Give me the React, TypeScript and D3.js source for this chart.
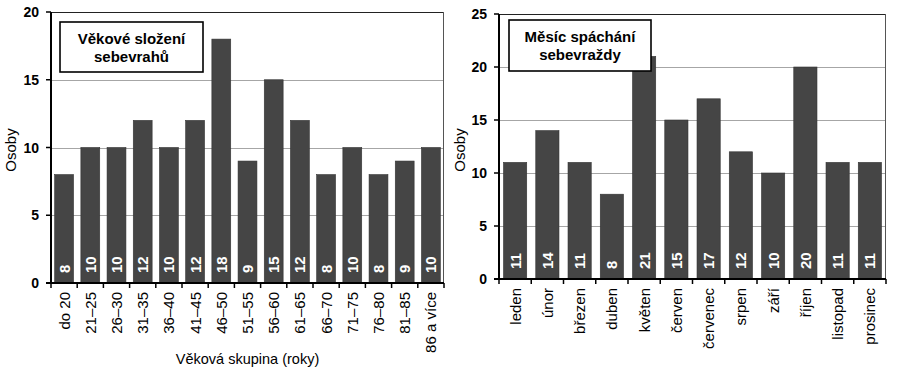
import React from 'react';
import * as d3 from 'd3';

const ageGroups = ['do 20', '21–25', '26–30', '31–35', '36–40', '41–45', '46–50', '51–55', '56–60', '61–65', '66–70', '71–75', '76–80', '81–85', '86 a více'];
const ageCounts = [8, 10, 10, 12, 10, 12, 18, 9, 15, 12, 8, 10, 8, 9, 10];
const ageTicks = [0, 5, 10, 15, 20];

const months = ['leden', 'únor', 'březen', 'duben', 'květen', 'červen', 'červenec', 'srpen', 'září', 'říjen', 'listopad', 'prosinec'];
const monthCounts = [11, 14, 11, 8, 21, 15, 17, 12, 10, 20, 11, 11];
const monthTicks = [0, 5, 10, 15, 20, 25];

const FONT = 'Liberation Sans, Arial, sans-serif';
const BAR = '#454545';

type ChartProps = {
  cats: string[];
  vals: number[];
  ticks: number[];
  x0: number; x1: number; yTop: number; yBottom: number;
  title: string[];
  box: { x: number; y: number; w: number; h: number; b1: number; b2: number };
  yLabelX: number;
  xTitle?: string;
  xTitleY?: number;
  labelOffset: number;
};

function Chart(p: ChartProps) {
  const max = p.ticks[p.ticks.length - 1];
  const x = d3.scaleBand<string>().domain(p.cats).range([p.x0, p.x1]).paddingInner(0.28).paddingOuter(0.14);
  const y = d3.scaleLinear().domain([0, max]).range([p.yBottom, p.yTop]);
  const step = x.step();
  const boundaries = d3.range(p.cats.length + 1).map(i => p.x0 + i * (p.x1 - p.x0) / p.cats.length);
  const cx = (p.box.x + p.box.w / 2);
  return (
    <g fontFamily={FONT}>
      {/* gridlines */}
      {p.ticks.filter(t => t > 0 && t < max).map(t => (
        <line key={'g' + t} x1={p.x0} x2={p.x1} y1={Math.round(y(t)) + 0.5} y2={Math.round(y(t)) + 0.5} stroke="#a6a6a6" strokeWidth={1} />
      ))}
      {/* frame top/right */}
      <line x1={p.x0} x2={p.x1} y1={p.yTop + 0.5} y2={p.yTop + 0.5} stroke="#222" strokeWidth={1.2} />
      <line x1={p.x1 - 0.5} x2={p.x1 - 0.5} y1={p.yTop} y2={p.yBottom} stroke="#555" strokeWidth={1} />
      {/* bars */}
      {p.vals.map((v, i) => (
        <rect key={'b' + i} x={x(p.cats[i])} y={y(v)} width={x.bandwidth()} height={p.yBottom - y(v)} fill={BAR} stroke="#333" strokeWidth={0.6} />
      ))}
      {/* value labels */}
      {p.vals.map((v, i) => {
        const c = (x(p.cats[i]) as number) + x.bandwidth() / 2;
        return (
          <text key={'v' + i} transform={`translate(${c},${p.yBottom - 10}) rotate(-90)`} dy="0.36em" fill="#fff" fontWeight="bold" fontSize={15} textAnchor="start">{v}</text>
        );
      })}
      {/* y axis */}
      <line x1={p.x0} x2={p.x0} y1={p.yTop} y2={p.yBottom} stroke="#000" strokeWidth={2} />
      {p.ticks.map(t => (
        <g key={'t' + t}>
          <line x1={p.x0 - 5} x2={p.x0} y1={y(t)} y2={y(t)} stroke="#000" strokeWidth={1.5} />
          <text x={p.x0 - 12} y={y(t)} dy="0.36em" textAnchor="end" fontWeight="bold" fontSize={14} fill="#000">{t}</text>
        </g>
      ))}
      <text transform={`translate(${p.yLabelX},150) rotate(-90)`} textAnchor="middle" dy="0.36em" fontSize={15} fill="#000">Osoby</text>
      {/* x axis */}
      <line x1={p.x0 - 5} x2={p.x1} y1={p.yBottom} y2={p.yBottom} stroke="#000" strokeWidth={2} />
      {boundaries.map((b, i) => (
        <line key={'xt' + i} x1={b} x2={b} y1={p.yBottom} y2={p.yBottom + 5} stroke="#000" strokeWidth={1.5} />
      ))}
      {p.cats.map(c => (
        <text key={'c' + c} transform={`translate(${(x(c) as number) + x.bandwidth() / 2},${p.yBottom + p.labelOffset}) rotate(-90)`} dy="0.36em" textAnchor="end" fontSize={15} fill="#000">{c}</text>
      ))}
      {p.xTitle && (
        <text x={(p.x0 + p.x1) / 2} y={p.xTitleY} textAnchor="middle" fontSize={14.5} fill="#000">{p.xTitle}</text>
      )}
      {/* title box */}
      <rect x={p.box.x} y={p.box.y} width={p.box.w} height={p.box.h} fill="#fff" stroke="#000" strokeWidth={1.6} />
      <text x={cx} y={p.box.b1} textAnchor="middle" fontWeight="bold" fontSize={15} fill="#000">{p.title[0]}</text>
      <text x={cx} y={p.box.b2} textAnchor="middle" fontWeight="bold" fontSize={15} fill="#000">{p.title[1]}</text>
      {step ? null : null}
    </g>
  );
}

export default function App() {
  return (
    <svg width={900} height={370} style={{ position: 'absolute', left: 0, top: 0, background: '#fff' }}>
      <rect x={0} y={0} width={900} height={370} fill="#fff" />
      <Chart
        cats={ageGroups}
        vals={ageCounts}
        ticks={ageTicks}
        x0={51} x1={444} yTop={12} yBottom={283}
        title={['Věkové složení', 'sebevrahů']}
        box={{ x: 60, y: 22, w: 143, h: 50, b1: 44, b2: 62 }}
        yLabelX={11}
        xTitle="Věková skupina (roky)"
        xTitleY={364}
        labelOffset={9}
      />
      <Chart
        cats={months}
        vals={monthCounts}
        ticks={monthTicks}
        x0={499} x1={886} yTop={14} yBottom={279}
        title={['Měsíc spáchání', 'sebevraždy']}
        box={{ x: 509, y: 20, w: 142, h: 51, b1: 42, b2: 60 }}
        yLabelX={460}
        labelOffset={9}
      />
    </svg>
  );
}
